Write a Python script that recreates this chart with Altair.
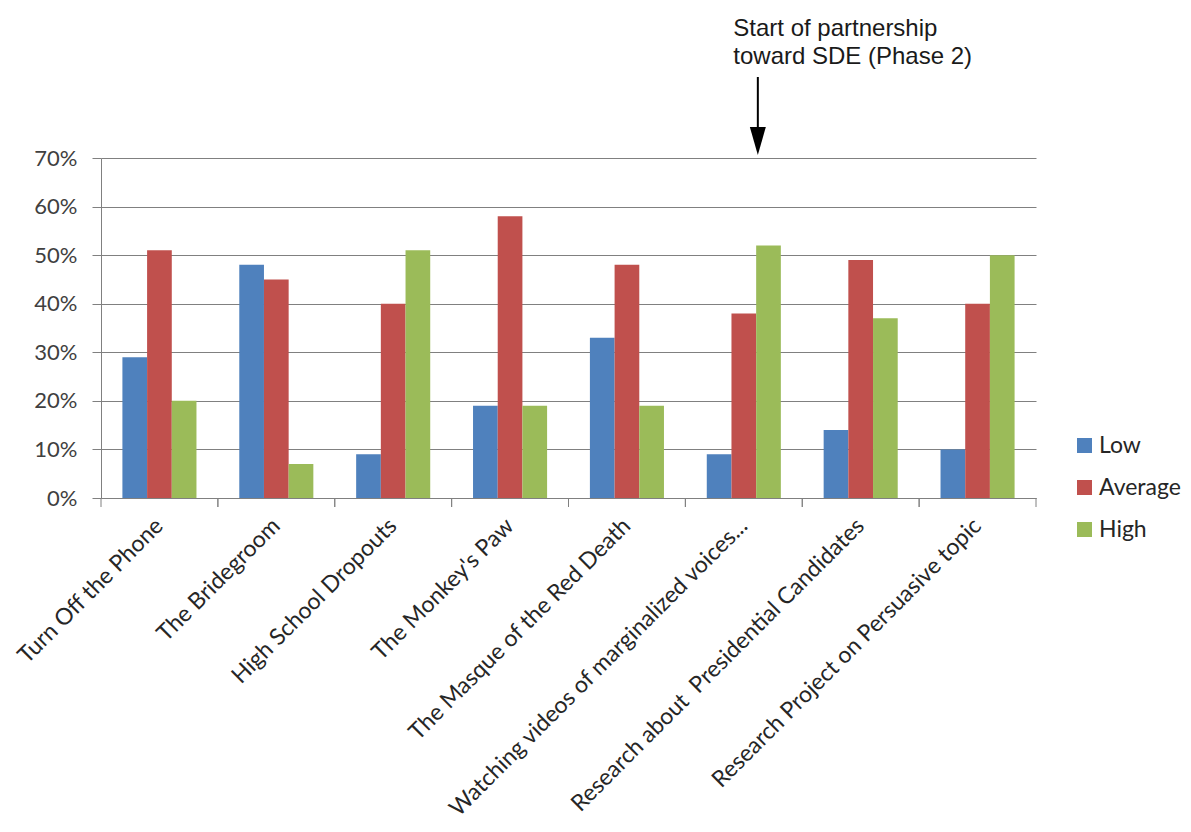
import altair as alt
import pandas as pd

categories = [
    "Turn Off the Phone",
    "The Bridegroom",
    "High School Dropouts",
    "The Monkey's Paw",
    "The Masque of the Red Death",
    "Watching videos of marginalized voices...",
    "Research about\u00a0 Presidential Candidates",
    "Research Project on Persuasive topic",
]
levels = ["Low", "Average", "High"]
low = [29, 48, 9, 19, 33, 9, 14, 10]
average = [51, 45, 40, 58, 48, 38, 49, 40]
high = [20, 7, 51, 19, 19, 52, 37, 50]
colors = ["#4F81BD", "#C0504D", "#9BBB59"]
y_ticks = [0, 0.1, 0.2, 0.3, 0.4, 0.5, 0.6, 0.7]
annotation_lines = ["Start of partnership", "toward SDE (Phase 2)"]
annotation_category = categories[5]

rows = []
for i, c in enumerate(categories):
    for lv, series in zip(levels, [low, average, high]):
        rows.append({"cat": c, "level": lv, "value": series[i] / 100})
df = pd.DataFrame(rows)
cats_df = pd.DataFrame({"cat": categories})
ann_df = pd.DataFrame({"cat": [annotation_category], "label": [annotation_lines]})

W, H = 935, 340
LABEL_FONT = "Lato"
GRID = "#808080"

x_enc = alt.X(
    "cat:N",
    sort=categories,
    scale=alt.Scale(paddingInner=0, paddingOuter=0),
    axis=alt.Axis(
        title=None,
        ticks=False,
        domain=True,
        domainColor=GRID,
        labelAngle=315,
        labelAlign="right",
        labelBaseline="middle",
        labelPadding=24,
        labelFont=LABEL_FONT,
        labelFontSize=23,
        labelColor="#262626",
        labelLimit=700,
        labelOverlap=False,
    ),
)

bars = alt.Chart(df).mark_bar().encode(
    x=x_enc,
    xOffset=alt.XOffset(
        "level:N", sort=levels, scale=alt.Scale(paddingInner=0, paddingOuter=0.867)
    ),
    y=alt.Y(
        "value:Q",
        scale=alt.Scale(domain=[0, 0.7], nice=False),
        axis=alt.Axis(
            title=None,
            format="%",
            values=y_ticks,
            grid=True,
            gridColor=GRID,
            gridWidth=1,
            domain=True,
            domainColor=GRID,
            ticks=True,
            tickSize=9,
            tickColor=GRID,
            labelPadding=15,
            labelFont=LABEL_FONT,
            labelFontSize=22,
            labelColor="#404040",
        ),
    ),
    color=alt.Color(
        "level:N",
        sort=levels,
        scale=alt.Scale(domain=levels, range=colors),
        legend=alt.Legend(
            title=None,
            orient="none",
            legendX=972,
            legendY=276,
            padding=0,
            symbolType="square",
            symbolSize=225,
            symbolStrokeWidth=0,
            labelFont=LABEL_FONT,
            labelFontSize=23,
            labelColor="#262626",
            labelOffset=3,
            rowPadding=18,
        ),
    ),
)

ticks_left = alt.Chart(cats_df).mark_rule(color=GRID, strokeWidth=1).encode(
    x=alt.X("cat:N", sort=categories, bandPosition=0),
    y=alt.value(H),
    y2=alt.value(H + 9),
)
ticks_right = alt.Chart(cats_df).mark_rule(color=GRID, strokeWidth=1).encode(
    x=alt.X("cat:N", sort=categories, bandPosition=1),
    y=alt.value(H),
    y2=alt.value(H + 9),
)

ann_text = alt.Chart(ann_df).mark_text(
    align="left",
    baseline="top",
    font="Liberation Sans",
    fontSize=24,
    lineHeight=28,
    color="#1a1a1a",
).encode(
    x=alt.X("cat:N", sort=categories, bandPosition=0.41),
    y=alt.value(-141),
    text="label",
)

arrow_shaft = alt.Chart(ann_df).mark_rule(color="black", strokeWidth=2).encode(
    x=alt.X("cat:N", sort=categories, bandPosition=0.62),
    y=alt.value(-81),
    y2=alt.value(-28),
)
arrow_head = alt.Chart(ann_df).mark_point(
    shape="M-0.57,-1L0.57,-1L0,1Z", size=784, filled=True, color="black", opacity=1
).encode(
    x=alt.X("cat:N", sort=categories, bandPosition=0.62),
    y=alt.value(-17),
)

chart = (
    alt.layer(bars, ticks_left, ticks_right, ann_text, arrow_shaft, arrow_head)
    .properties(
        width=W,
        height=H,
        autosize=alt.AutoSizeParams(type="none"),
        padding={"left": 101, "top": 158, "right": 155, "bottom": 334},
        background="white",
    )
    .configure_view(stroke=None)
)

chart.save("out.html", embed_options={"renderer": "svg", "actions": False})
